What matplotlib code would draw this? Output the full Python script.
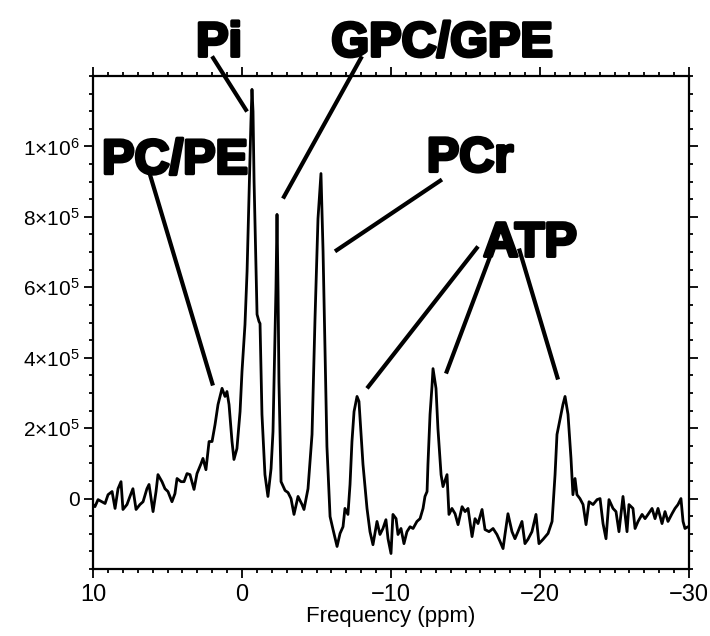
import matplotlib
matplotlib.use("Agg")
import matplotlib.pyplot as plt
import matplotlib.patheffects as pe
import numpy as np
from matplotlib.ticker import MultipleLocator, FixedLocator

plt.rcParams['font.family'] = ['Liberation Sans', 'DejaVu Sans']
plt.rcParams['mathtext.fontset'] = 'custom'
plt.rcParams['mathtext.rm'] = 'Liberation Sans'
plt.rcParams['mathtext.it'] = 'Liberation Sans:italic'
plt.rcParams['mathtext.bf'] = 'Liberation Sans:bold'

# 31P spectrum: chemical shift (ppm) and signal (units of 1e5)
freq_ppm = [
    10.00, 9.87, 9.66, 9.40, 9.19, 8.99, 8.72, 8.52, 8.32, 8.12,
    7.99, 7.72, 7.52, 7.32, 7.11, 6.85, 6.64, 6.38, 6.24, 5.97,
    5.77, 5.64, 5.37, 5.17, 4.97, 4.70, 4.50, 4.36, 4.09, 3.89,
    3.69, 3.49, 3.22, 3.02, 2.75, 2.62, 2.42, 2.21, 2.01, 1.81,
    1.61, 1.34, 1.14, 1.01, 0.87, 0.67, 0.54, 0.34, 0.13, 0.00,
    -0.20, -0.34, -0.47, -0.60, -0.67, -0.74, -0.81, -1.01, -1.14, -1.21,
    -1.34, -1.54, -1.74, -1.95, -2.08, -2.15, -2.28, -2.35, -2.42, -2.48,
    -2.62, -2.89, -3.09, -3.29, -3.49, -3.76, -4.03, -4.16, -4.43, -4.70,
    -4.90, -5.10, -5.30, -5.44, -5.57, -5.70, -5.91, -6.11, -6.38, -6.58,
    -6.78, -6.91, -7.11, -7.25, -7.38, -7.52, -7.72, -7.85, -8.12, -8.39,
    -8.59, -8.79, -9.06, -9.26, -9.46, -9.66, -9.80, -10.00, -10.13, -10.34,
    -10.47, -10.67, -10.87, -11.07, -11.28, -11.48, -11.74, -11.95, -12.15, -12.28,
    -12.42, -12.48, -12.62, -12.75, -12.82, -13.02, -13.15, -13.36, -13.49, -13.76,
    -13.89, -14.09, -14.30, -14.50, -14.77, -14.97, -15.17, -15.44, -15.64, -15.84,
    -16.11, -16.31, -16.58, -16.85, -17.11, -17.32, -17.52, -17.65, -17.85, -18.12,
    -18.32, -18.52, -18.79, -18.99, -19.19, -19.46, -19.73, -19.93, -20.20, -20.54,
    -20.81, -21.01, -21.14, -21.34, -21.54, -21.68, -21.88, -22.08, -22.21, -22.35,
    -22.48, -22.68, -22.89, -23.09, -23.29, -23.56, -23.83, -24.03, -24.23, -24.43,
    -24.63, -24.90, -25.10, -25.30, -25.57, -25.84, -25.97, -26.24, -26.38, -26.58,
    -26.85, -27.05, -27.25, -27.52, -27.72, -27.92, -28.19, -28.39, -28.59, -28.86,
    -29.06, -29.26, -29.46, -29.60, -29.73, -29.93,
]
signal_1e5 = [
    -0.17, -0.23, -0.03, -0.09, -0.14, 0.11, 0.20, -0.28, 0.28, 0.48,
    -0.31, -0.17, 0.06, 0.28, -0.31, -0.17, -0.09, 0.28, 0.40, -0.37,
    0.20, 0.68, 0.48, 0.28, 0.20, -0.09, 0.14, 0.57, 0.48, 0.48,
    0.71, 0.68, 0.26, 0.71, 0.99, 1.14, 0.82, 1.62, 1.62, 2.10,
    2.67, 3.13, 2.90, 3.04, 2.67, 1.62, 1.11, 1.42, 2.47, 3.61,
    4.94, 6.45, 8.64, 10.71, 11.62, 10.99, 9.01, 5.23, 5.03, 4.97,
    2.39, 0.68, 0.06, 0.85, 1.90, 3.32, 5.97, 8.07, 5.88, 3.32,
    0.48, 0.23, 0.17, 0.00, -0.45, 0.06, -0.17, -0.31, 0.28, 1.82,
    5.11, 7.95, 9.23, 7.02, 4.18, 1.48, -0.51, -0.88, -1.36, -0.99,
    -0.80, -0.28, -0.45, 0.40, 1.62, 2.47, 2.90, 2.76, 0.97, -0.28,
    -0.94, -1.31, -0.65, -1.02, -0.85, -0.60, -1.14, -1.56, -0.45, -0.57,
    -1.02, -0.85, -1.28, -0.94, -0.80, -0.85, -0.65, -0.57, -0.28, 0.06,
    0.20, 0.97, 2.39, 3.18, 3.69, 3.13, 1.99, 0.68, 0.34, 0.68,
    -0.45, -0.28, -0.43, -0.74, -0.23, -0.37, -0.28, -1.08, -0.57, -0.71,
    -0.31, -0.88, -0.94, -0.85, -1.02, -1.22, -1.42, -1.02, -0.43, -0.94,
    -1.14, -0.94, -0.65, -1.28, -1.16, -0.94, -0.45, -1.28, -1.16, -0.99,
    -0.65, 0.68, 1.82, 2.24, 2.67, 2.90, 2.39, 1.14, 0.11, 0.57,
    0.11, 0.00, -0.17, -0.74, -0.09, -0.17, -0.03, 0.00, -0.71, -1.14,
    -0.03, -0.28, -0.37, -0.94, 0.06, -0.94, -0.17, -0.28, -0.85, -0.65,
    -0.45, -0.57, -0.45, -0.28, -0.57, -0.28, -0.71, -0.37, -0.65, -0.43,
    -0.28, -0.17, 0.00, -0.65, -0.85, -0.80,
]

x_ticks = [10, 0, -10, -20, -30]
x_tick_labels = ['10', '0', '\u221210', '\u221220', '\u221230']
y_ticks = [0, 2e5, 4e5, 6e5, 8e5, 1e6]
y_tick_labels = ['0', r'$2{\times}10^{5}$', r'$4{\times}10^{5}$',
                 r'$6{\times}10^{5}$', r'$8{\times}10^{5}$', r'$1{\times}10^{6}$']

# Peak labels: text, text anchor (ppm, 1e5) and pointer segments
peak_labels = ['Pi', 'GPC/GPE', 'PCr', 'ATP', 'PC/PE']
label_ppm = [1.54, -13.42, -15.30, -19.33, 4.50]
label_base_1e5 = [12.56, 12.56, 9.29, 6.88, 9.23]
pointer_from = [(2.01, 12.56), (-8.05, 12.56), (-13.42, 9.06), (6.24, 9.29),
                (-15.84, 7.16), (-16.85, 7.10), (-18.59, 7.10)]
pointer_to = [(-0.34, 10.99), (-2.75, 8.52), (-6.24, 7.02), (1.95, 3.21),
              (-8.39, 3.13), (-13.69, 3.55), (-21.21, 3.38)]

fig = plt.figure(figsize=(7.10, 6.36), dpi=100)
ax = fig.add_axes([93 / 710, 1 - 569 / 636, (689 - 93) / 710, (569 - 76) / 636])

ax.plot(np.array(freq_ppm), np.array(signal_1e5) * 1e5, color='black', lw=2.0,
        solid_joinstyle='round', solid_capstyle='round')

for (x0, y0), (x1, y1) in zip(pointer_from, pointer_to):
    ax.plot([x0, x1], [y0 * 1e5, y1 * 1e5], color='black', lw=3.0,
            solid_capstyle='butt', clip_on=False)

for txt, xp, yb in zip(peak_labels, label_ppm, label_base_1e5):
    ax.text(xp, yb * 1e5, txt, ha='center', va='baseline', fontsize=35,
            fontweight='bold', family=['Liberation Sans', 'DejaVu Sans'],
            color='black', clip_on=False,
            path_effects=[pe.withStroke(linewidth=2.4, foreground='black')])

ax.set_xlim(10, -30)
ax.set_ylim(-2.0e5, 1.2e6)

ax.xaxis.set_major_locator(FixedLocator(x_ticks))
ax.set_xticklabels(x_tick_labels)
ax.xaxis.set_minor_locator(MultipleLocator(1))
ax.yaxis.set_major_locator(FixedLocator(y_ticks))
ax.set_yticklabels(y_tick_labels)
ax.yaxis.set_minor_locator(MultipleLocator(5e4))

ax.tick_params(which='both', direction='out', top=True, right=True,
               width=1.3, color='black')
ax.tick_params(which='major', length=6.5)
ax.tick_params(which='minor', length=3.2)
ax.tick_params(axis='x', which='major', labelsize=17, pad=4)
ax.tick_params(axis='y', which='major', labelsize=15, pad=3)

for s in ax.spines.values():
    s.set_linewidth(1.6)

ax.set_xlabel('Frequency (ppm)', fontsize=16, labelpad=0)

fig.savefig('out.png', dpi=100)
